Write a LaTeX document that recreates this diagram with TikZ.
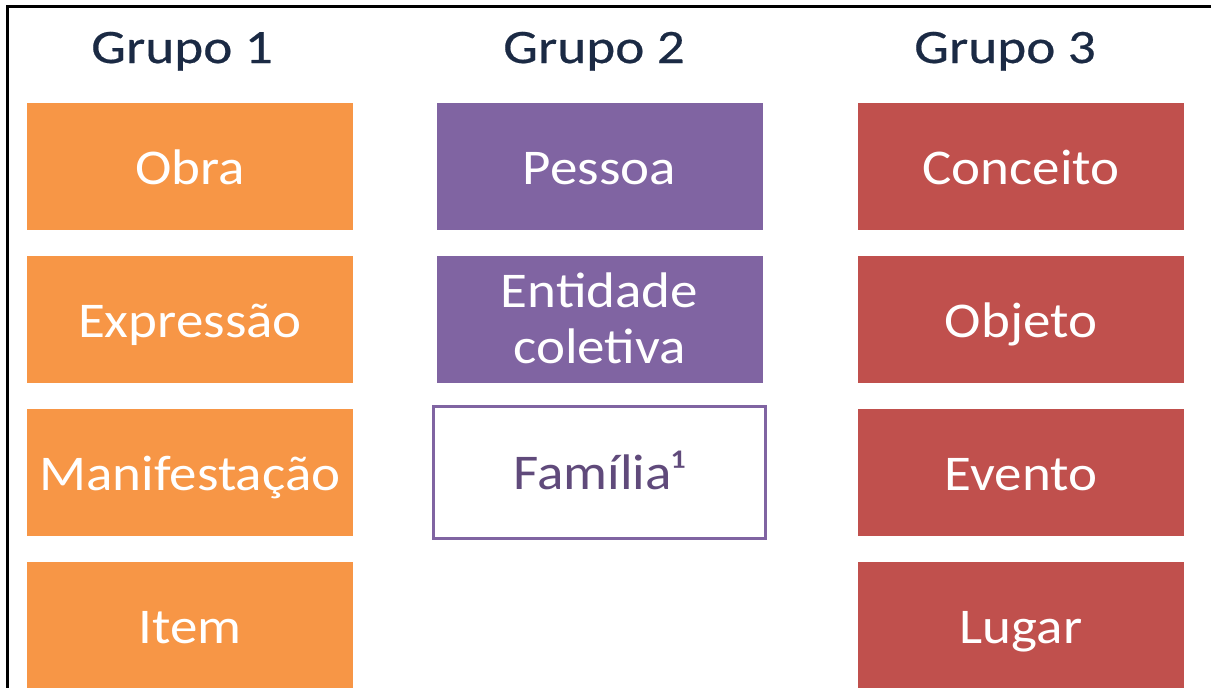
\documentclass[tikz,border=0pt]{standalone}
\usepackage{fontspec}
\setmainfont{Carlito}
\newfontfamily\boxfont[FakeStretch=1.1]{Carlito}
\newfontfamily\headfont[FakeStretch=1.15, FakeBold=0.4]{Carlito}
\usepackage{tikz}
\definecolor{orangeG}{HTML}{F79646}
\definecolor{purpleG}{HTML}{8064A2}
\definecolor{redG}{HTML}{C0504D}
\definecolor{headG}{HTML}{1B2A44}
\definecolor{famtext}{HTML}{604A7B}
\tikzstyle{block} = [rectangle, minimum width=326pt, minimum height=127pt, inner sep=0pt, text height=35pt, text depth=0pt, align=center, text=white, font=\boxfont\fontsize{50}{56}\selectfont]
\tikzstyle{g1} = [block, fill=orangeG]
\tikzstyle{g2} = [block, fill=purpleG]
\tikzstyle{g3} = [block, fill=redG]
\tikzstyle{head} = [anchor=base, text=headG, font=\headfont\fontsize{48}{58}\selectfont]
\tikzstyle{frameline} = [line width=3pt, black]

\begin{document}
\begin{tikzpicture}[x=1pt, y=-1pt]
\useasboundingbox (0, 0) rectangle (1211, 688);
\coordinate (fb) at (7, 690);
\coordinate (fc) at (7, 6);
\coordinate (fr) at (1213, 6);
\draw [frameline] (fb) -- (fc) -- (fr);

% group 1
\node [head] at (182, 63) (h1) {Grupo 1};
\node [g1] at (190, 166.5) (obra) {Obra};
\node [g1] at (190, 319.5) (expr) {Expressão};
\node [g1] at (190, 472.5) (manif) {Manifestação};
\node [g1] at (190, 625.5) (item) {Item};

% group 2
\node [head] at (594, 63) (h2) {Grupo 2};
\node [g2] at (599.5, 166.5) (pessoa) {Pessoa};
\node [g2, text height=87pt] at (599.5, 319.5) (entidade) {Entidade\\coletiva};
\node [block, draw=purpleG, line width=3pt, fill=white, text=famtext, minimum width=332pt, minimum height=132pt, text height=33pt] at (599.5, 472.5) (familia) {Família¹};

% group 3
\node [head] at (1005, 63) (h3) {Grupo 3};
\node [g3] at (1021, 166.5) (conceito) {Conceito};
\node [g3] at (1021, 319.5) (objeto) {Objeto};
\node [g3] at (1021, 472.5) (evento) {Evento};
\node [g3] at (1021, 625.5) (lugar) {Lugar};

\end{tikzpicture}
\end{document}
